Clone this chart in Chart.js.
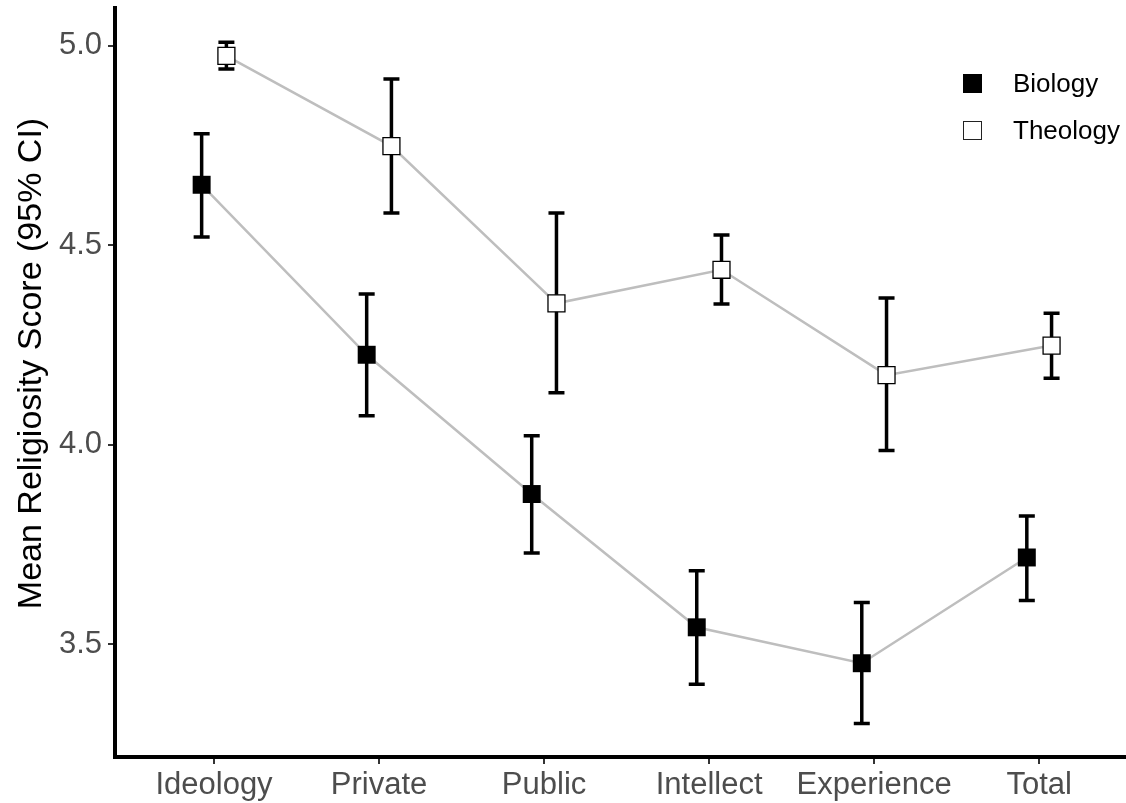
<!DOCTYPE html>
<html>
<head>
<meta charset="utf-8">
<script src="https://cdn.jsdelivr.net/npm/chart.js@4.4.0/dist/chart.umd.min.js"></script>
<style>
  body { margin: 0; background: #fff; overflow: hidden; }
  #wrap { position: relative; width: 1126px; height: 803px; }
  canvas { display: block; }
  #legend { position: absolute; left: 963px; top: 60px; font-family: "Liberation Sans", Arial, sans-serif; font-size: 26px; color: #000; }
  .item { display: flex; align-items: center; height: 47px; }
  .box { width: 19px; height: 19px; box-sizing: border-box; margin-right: 31px; }
  .bio { background: #000; }
  .theo { background: #fff; border: 1.5px solid #222; }
</style>
</head>
<body>
<div id="wrap">
  <canvas id="chart" width="1126" height="803"></canvas>
  <div id="legend">
    <div class="item"><span class="box bio"></span>Biology</div>
    <div class="item"><span class="box theo"></span>Theology</div>
  </div>
</div>
<script>
// categorias do eixo x
const categories = ['Ideology', 'Private', 'Public', 'Intellect', 'Experience', 'Total'];
const yTicks = [3.5, 4.0, 4.5, 5.0];
const yTitle = 'Mean Religiosity Score (95% CI)';

// Biology: média e IC 95%
const biologyMean = [4.652, 4.226, 3.877, 3.543, 3.453, 3.718];
const biologyHigh = [4.780, 4.378, 4.023, 3.685, 3.605, 3.822];
const biologyLow  = [4.521, 4.073, 3.729, 3.400, 3.302, 3.610];

// Theology: média e IC 95%
const theologyMean = [4.975, 4.749, 4.355, 4.439, 4.175, 4.249];
const theologyHigh = [5.009, 4.917, 4.581, 4.526, 4.368, 4.330];
const theologyLow  = [4.942, 4.581, 4.131, 4.353, 3.986, 4.167];

const dodge = 0.075; // deslocamento lateral de cada grupo
const font = 'Liberation Sans, Arial, sans-serif';

const toPoints = (values, shift) => values.map((v, i) => ({ x: i + 1 + shift, y: v }));

const groups = [
    { mean: biologyMean, high: biologyHigh, low: biologyLow, shift: -dodge },
    { mean: theologyMean, high: theologyHigh, low: theologyLow, shift: dodge }
];

// barras de erro desenhadas depois das linhas cinzas e antes dos quadrados
const errorBars = {
    id: 'errorBars',
    afterDatasetDraw(chart, args) {
        if (args.index !== 0) return;
        const { ctx, scales: { x, y } } = chart;
        ctx.save();
        ctx.strokeStyle = '#000';
        ctx.lineWidth = 3.5;
        groups.forEach((g) => {
            g.mean.forEach((_, i) => {
                const px = x.getPixelForValue(i + 1 + g.shift);
                const top = y.getPixelForValue(g.high[i]);
                const bottom = y.getPixelForValue(g.low[i]);
                ctx.beginPath();
                ctx.moveTo(px, top);
                ctx.lineTo(px, bottom);
                ctx.moveTo(px - 8, top);
                ctx.lineTo(px + 8, top);
                ctx.moveTo(px - 8, bottom);
                ctx.lineTo(px + 8, bottom);
                ctx.stroke();
            });
        });
        ctx.restore();
    }
};

// título do eixo y (um pouco acima do centro, como no original)
const yAxisTitle = {
    id: 'yAxisTitle',
    afterDraw(chart) {
        const { ctx, chartArea } = chart;
        ctx.save();
        ctx.translate(32, (chartArea.top + chartArea.bottom) / 2 - 19);
        ctx.rotate(-Math.PI / 2);
        ctx.font = '34px ' + font;
        ctx.fillStyle = '#000';
        ctx.textAlign = 'center';
        ctx.textBaseline = 'middle';
        ctx.fillText(yTitle, 0, 0);
        ctx.restore();
    }
};

const lineStyle = { showLine: true, borderColor: '#BEBEBE', borderWidth: 2.5, pointRadius: 0, pointHoverRadius: 0, order: 1 };

new Chart(document.getElementById('chart'), {
    type: 'scatter',
    data: {
        datasets: [
            { label: 'Biology line', data: toPoints(biologyMean, -dodge), ...lineStyle },
            { label: 'Theology line', data: toPoints(theologyMean, dodge), ...lineStyle },
            {
                label: 'Biology', data: toPoints(biologyMean, -dodge), order: 0,
                pointStyle: 'rect', pointRadius: 12.7, pointHoverRadius: 12.7,
                backgroundColor: '#000', borderColor: '#000', borderWidth: 0
            },
            {
                label: 'Theology', data: toPoints(theologyMean, dodge), order: 0,
                pointStyle: 'rect', pointRadius: 12, pointHoverRadius: 12,
                backgroundColor: '#fff', borderColor: '#000', borderWidth: 1.3
            }
        ]
    },
    options: {
        responsive: false,
        animation: false,
        events: [],
        layout: { autoPadding: false, padding: { top: 8, right: 0, left: 0, bottom: 0 } },
        plugins: { legend: { display: false }, tooltip: { enabled: false } },
        scales: {
            x: {
                type: 'linear',
                min: 0.4,
                max: 6.526,
                afterBuildTicks: (scale) => { scale.ticks = categories.map((c, i) => ({ value: i + 1 })); },
                afterFit: (scale) => { scale.height = 46; scale.paddingLeft = 0; scale.paddingRight = 0; },
                ticks: {
                    callback: (value) => categories[Math.round(value) - 1],
                    font: { family: font, size: 31 },
                    color: '#4D4D4D',
                    padding: 3,
                    maxRotation: 0,
                    autoSkip: false
                },
                grid: { drawOnChartArea: false, drawTicks: true, tickLength: 7, color: '#333', lineWidth: 2 },
                border: { display: true, color: '#000', width: 4 }
            },
            y: {
                min: 3.218,
                max: 5.095,
                afterBuildTicks: (scale) => { scale.ticks = yTicks.map((v) => ({ value: v })); },
                // largura fixa e sem o padding automático dos rótulos
                afterFit: (scale) => { scale.width = 115; scale.paddingTop = 0; scale.paddingBottom = 0; },
                ticks: {
                    callback: (value) => value.toFixed(1),
                    font: { family: font, size: 31 },
                    color: '#4D4D4D',
                    padding: 6
                },
                grid: { drawOnChartArea: false, drawTicks: true, tickLength: 7, color: '#333', lineWidth: 2 },
                border: { display: true, color: '#000', width: 4 }
            }
        }
    },
    plugins: [errorBars, yAxisTitle]
});
</script>
</body>
</html>
